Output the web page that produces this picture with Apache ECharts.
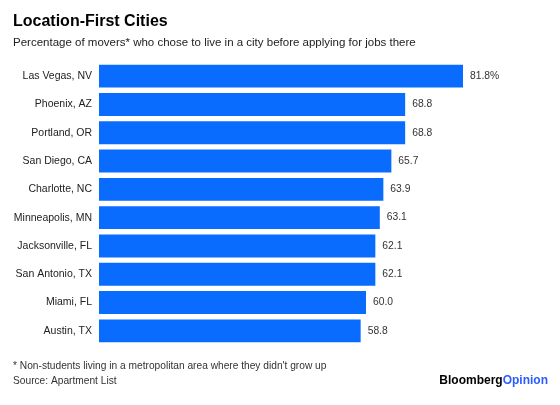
<!DOCTYPE html>
<html><head><meta charset="utf-8">
<script src="https://cdn.jsdelivr.net/npm/echarts@6/dist/echarts.min.js"></script>
<style>html,body{margin:0;padding:0;background:#fff}#c{width:560px;height:405px}</style>
</head><body><div id="c"></div>
<script>
const cities = ["Las Vegas, NV","Phoenix, AZ","Portland, OR","San Diego, CA","Charlotte, NC","Minneapolis, MN","Jacksonville, FL","San Antonio, TX","Miami, FL","Austin, TX"];
const values = [81.8,68.8,68.8,65.7,63.9,63.1,62.1,62.1,60.0,58.8];
const valueLabels = ["81.8%","68.8","68.8","65.7","63.9","63.1","62.1","62.1","60.0","58.8"];

const chart = echarts.init(document.getElementById('c'), null, {renderer:'canvas'});
const font = "'Liberation Sans', Arial, sans-serif";
chart.setOption({
  animation:false,
  backgroundColor:'#fff',
  title:[
    {text:'Location-First Cities', left:13, top:14, padding:0, textStyle:{fontFamily:font, fontSize:16, fontWeight:'bold', color:'#000'}},
    {text:'Percentage of movers* who chose to live in a city before applying for jobs there', left:13, top:37, padding:0, textStyle:{fontFamily:font, fontSize:11.5, fontWeight:'normal', color:'#222'}}
  ],
  graphic:[
    {type:'text', left:13, top:361, style:{text:"* Non-students living in a metropolitan area where they didn't grow up", font:"10.2px "+font, fill:'#333'}},
    {type:'text', left:13, top:376, style:{text:"Source: Apartment List", font:"10.2px "+font, fill:'#333'}},
    {type:'text', right:12, top:375, style:{rich:{a:{fontFamily:font,fontSize:12,fontWeight:'bold',fill:'#000'},b:{fontFamily:font,fontSize:12,fontWeight:'bold',fill:'#2b5cff'}}, text:'{a|Bloomberg}{b|Opinion}'}}
  ],
  grid:{left:99, top:62, width:445, height:283, containLabel:false},
  xAxis:{type:'value', min:0, max:100, show:false},
  yAxis:{type:'category', inverse:true, data:cities,
    axisLine:{show:false}, axisTick:{show:false},
    axisLabel:{fontFamily:font, fontSize:10.5, color:'#222', margin:7}},
  series:[{type:'bar', data:values, barCategoryGap:'19%', itemStyle:{color:'#0a6cff'},
    label:{show:true, position:'right', distance:7, fontFamily:font, fontSize:10.3, color:'#333',
      formatter:p=>valueLabels[p.dataIndex]}}]
});
</script></body></html>
